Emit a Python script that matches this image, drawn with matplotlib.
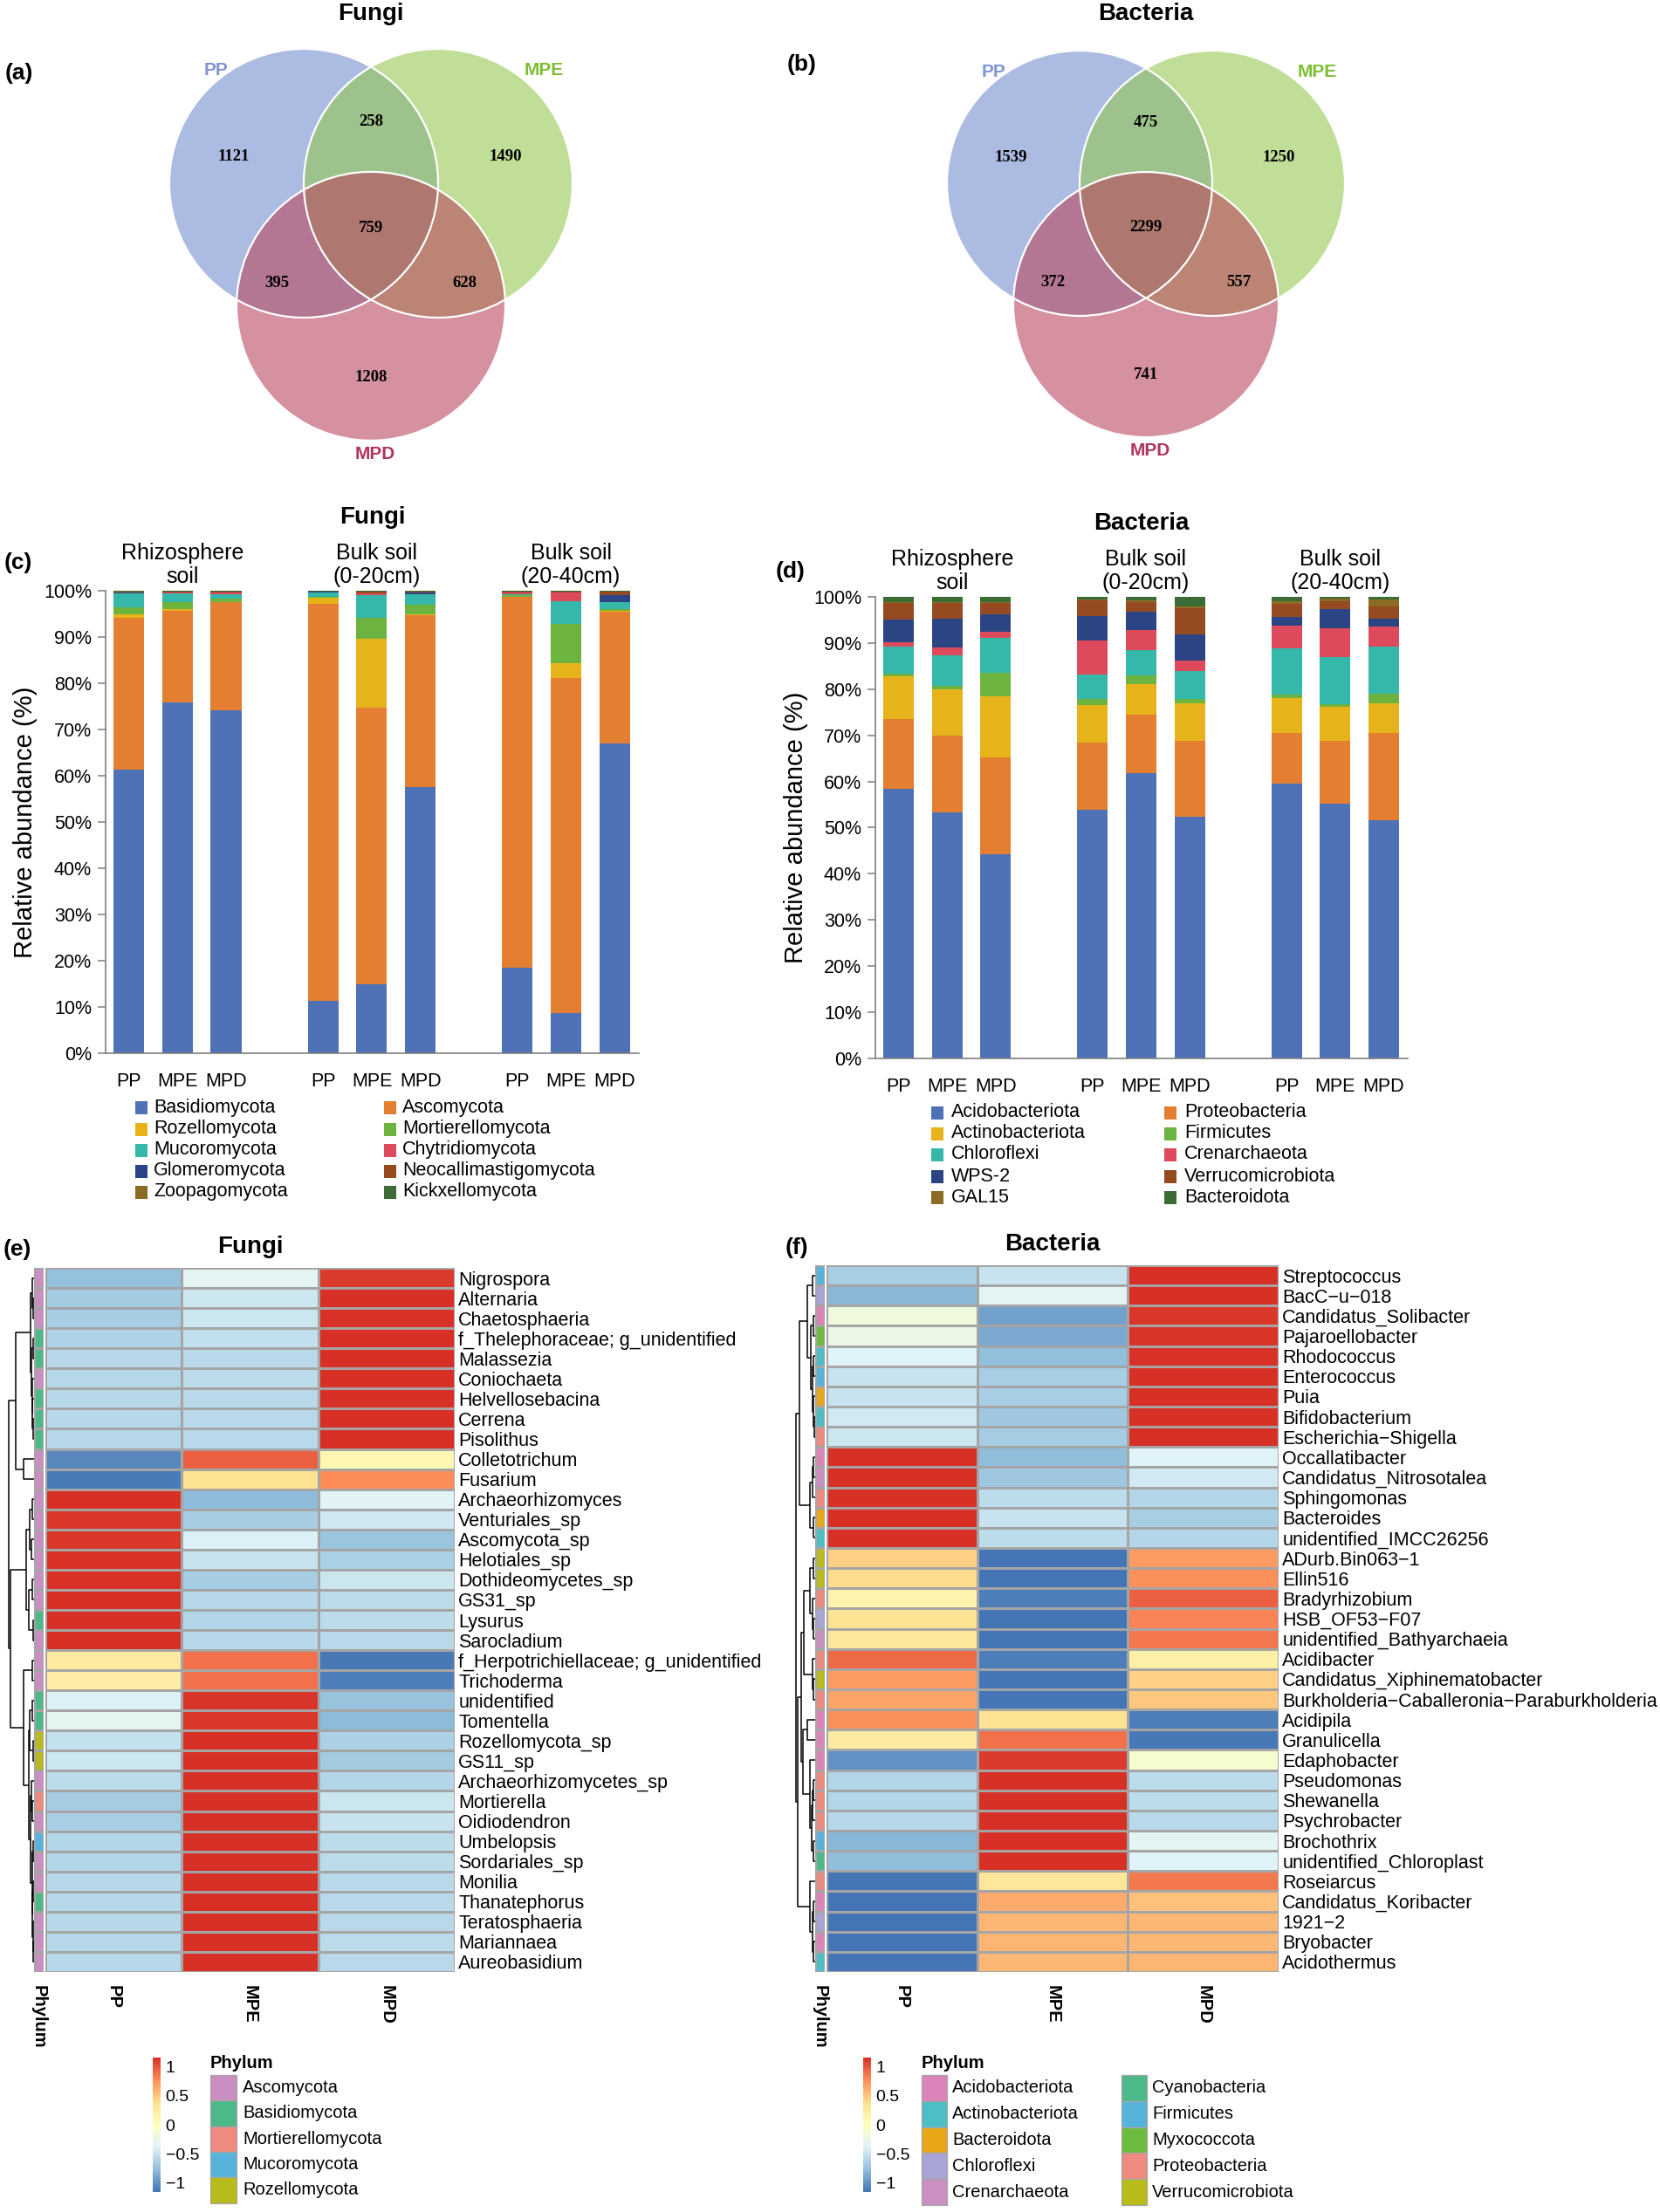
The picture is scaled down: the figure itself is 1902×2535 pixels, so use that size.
import numpy as np
import matplotlib
matplotlib.use("Agg")
import matplotlib.pyplot as plt
from matplotlib.patches import Circle, Rectangle
from matplotlib.colors import LinearSegmentedColormap, ListedColormap, Normalize
from matplotlib.cm import ScalarMappable

plt.rcParams['font.family'] = ['Liberation Sans', 'DejaVu Sans']

# ======================= DATA =======================
venn_sets = ['PP', 'MPE', 'MPD']
# order: PP only, MPE only, MPD only, PP&MPE, PP&MPD, MPE&MPD, all three
fungi_venn = [1121, 1490, 1208, 258, 395, 628, 759]
bacteria_venn = [1539, 1250, 741, 475, 372, 557, 2299]

site_groups = ['Rhizosphere\nsoil', 'Bulk soil\n(0-20cm)', 'Bulk soil\n(20-40cm)']
treatments = ['PP', 'MPE', 'MPD']

fungi_phyla = ['Basidiomycota', 'Ascomycota', 'Rozellomycota', 'Mortierellomycota',
               'Mucoromycota', 'Chytridiomycota', 'Glomeromycota',
               'Neocallimastigomycota', 'Zoopagomycota', 'Kickxellomycota']
f_basidiomycota = [61.3, 75.8, 74.1, 11.4, 15.0, 57.6, 18.4, 8.6, 66.9]
f_ascomycota = [32.8, 19.9, 23.4, 85.8, 59.8, 37.1, 80.3, 72.5, 28.5]
f_rozellomycota = [0.9, 0.3, 0.1, 1.2, 14.8, 0.3, 0.0, 3.2, 0.3]
f_mortierellomycota = [1.5, 1.5, 0.7, 0.3, 4.6, 1.9, 0.3, 8.5, 0.3]
f_mucoromycota = [2.9, 2.0, 0.9, 0.9, 4.9, 2.3, 0.3, 5.0, 1.5]
f_chytridiomycota = [0.1, 0.1, 0.4, 0.1, 0.3, 0.1, 0.3, 1.9, 0.1]
f_glomeromycota = [0.1, 0.1, 0.1, 0.1, 0.1, 0.4, 0.1, 0.0, 1.4]
f_neocallimastigomycota = [0.1, 0.1, 0.1, 0.1, 0.3, 0.1, 0.1, 0.1, 0.8]
f_zoopagomycota = [0.1, 0.0, 0.0, 0.0, 0.1, 0.0, 0.0, 0.0, 0.1]
f_kickxellomycota = [0.2, 0.2, 0.2, 0.1, 0.1, 0.2, 0.2, 0.2, 0.1]

bacteria_phyla = ['Acidobacteriota', 'Proteobacteria', 'Actinobacteriota', 'Firmicutes',
                  'Chloroflexi', 'Crenarchaeota', 'WPS-2', 'Verrucomicrobiota',
                  'GAL15', 'Bacteroidota']
b_acidobacteriota = [58.4, 53.4, 44.2, 53.8, 61.8, 52.3, 59.5, 55.2, 51.6]
b_proteobacteria = [15.1, 16.5, 21.1, 14.6, 12.6, 16.5, 11.0, 13.6, 18.9]
b_actinobacteriota = [9.3, 10.0, 13.2, 8.2, 6.7, 8.1, 7.6, 7.4, 6.4]
b_firmicutes = [0.6, 0.8, 5.0, 1.2, 1.8, 1.0, 0.8, 0.6, 2.2]
b_chloroflexi = [5.8, 6.6, 7.7, 5.3, 5.6, 6.1, 10.0, 10.1, 10.1]
b_crenarchaeota = [0.9, 1.8, 1.3, 7.5, 4.4, 2.2, 4.9, 6.3, 4.3]
b_wps2 = [4.9, 6.2, 3.7, 5.3, 3.9, 5.6, 1.9, 4.1, 1.8]
b_verrucomicrobiota = [3.6, 3.3, 2.5, 3.3, 2.1, 5.7, 2.7, 1.8, 2.6]
b_gal15 = [0.2, 0.3, 0.2, 0.3, 0.4, 0.4, 0.7, 0.5, 1.5]
b_bacteroidota = [1.2, 1.1, 1.1, 0.5, 0.7, 2.1, 0.9, 0.4, 0.6]

fungi_genera = ['Nigrospora', 'Alternaria', 'Chaetosphaeria', 'f_Thelephoraceae; g_unidentified',
                'Malassezia', 'Coniochaeta', 'Helvellosebacina', 'Cerrena', 'Pisolithus',
                'Colletotrichum', 'Fusarium', 'Archaeorhizomyces', 'Venturiales_sp',
                'Ascomycota_sp', 'Helotiales_sp', 'Dothideomycetes_sp', 'GS31_sp', 'Lysurus',
                'Sarocladium', 'f_Herpotrichiellaceae; g_unidentified', 'Trichoderma',
                'unidentified', 'Tomentella', 'Rozellomycota_sp', 'GS11_sp',
                'Archaeorhizomycetes_sp', 'Mortierella', 'Oidiodendron', 'Umbelopsis',
                'Sordariales_sp', 'Monilia', 'Thanatephorus', 'Teratosphaeria',
                'Mariannaea', 'Aureobasidium']
fungi_z_pp = [-0.75, -0.68, -0.66, -0.62, -0.58, -0.59, -0.58, -0.58, -0.58,
              -1.05, -1.12, 1.15, 1.12, 1.12, 1.14, 1.14, 1.15, 1.15, 1.15,
              0.25, 0.22, -0.40, -0.33, -0.52, -0.47, -0.55, -0.67, -0.65, -0.60,
              -0.60, -0.58, -0.58, -0.58, -0.59, -0.58]
fungi_z_mpe = [-0.35, -0.47, -0.48, -0.53, -0.57, -0.56, -0.57, -0.57, -0.57,
               0.95, 0.35, -0.78, -0.66, -0.40, -0.50, -0.66, -0.59, -0.60, -0.58,
               0.88, 0.88, 1.13, 1.12, 1.15, 1.15, 1.15, 1.15, 1.15, 1.15,
               1.15, 1.15, 1.15, 1.15, 1.15, 1.15]
fungi_z_mpd = [1.10, 1.15, 1.14, 1.15, 1.15, 1.15, 1.15, 1.15, 1.15,
               0.10, 0.77, -0.37, -0.46, -0.72, -0.64, -0.48, -0.56, -0.55, -0.57,
               -1.13, -1.10, -0.73, -0.79, -0.63, -0.68, -0.60, -0.48, -0.50, -0.55,
               -0.55, -0.57, -0.57, -0.57, -0.56, -0.57]
fungi_row_phylum = ['Ascomycota', 'Ascomycota', 'Ascomycota', 'Basidiomycota', 'Basidiomycota',
                    'Ascomycota', 'Basidiomycota', 'Basidiomycota', 'Basidiomycota',
                    'Ascomycota', 'Ascomycota', 'Ascomycota', 'Ascomycota', 'Ascomycota',
                    'Ascomycota', 'Ascomycota', 'Ascomycota', 'Basidiomycota', 'Ascomycota',
                    'Ascomycota', 'Ascomycota', 'Basidiomycota', 'Basidiomycota',
                    'Rozellomycota', 'Rozellomycota', 'Ascomycota', 'Mortierellomycota',
                    'Ascomycota', 'Mucoromycota', 'Ascomycota', 'Ascomycota', 'Basidiomycota',
                    'Ascomycota', 'Ascomycota', 'Ascomycota']
fungi_legend_phyla = ['Ascomycota', 'Basidiomycota', 'Mortierellomycota', 'Mucoromycota', 'Rozellomycota']

bacteria_genera = ['Streptococcus', 'BacC\u2212u\u2212018', 'Candidatus_Solibacter', 'Pajaroellobacter',
                   'Rhodococcus', 'Enterococcus', 'Puia', 'Bifidobacterium',
                   'Escherichia\u2212Shigella', 'Occallatibacter', 'Candidatus_Nitrosotalea',
                   'Sphingomonas', 'Bacteroides', 'unidentified_IMCC26256', 'ADurb.Bin063\u22121',
                   'Ellin516', 'Bradyrhizobium', 'HSB_OF53\u2212F07', 'unidentified_Bathyarchaeia',
                   'Acidibacter', 'Candidatus_Xiphinematobacter',
                   'Burkholderia\u2212Caballeronia\u2212Paraburkholderia', 'Acidipila', 'Granulicella',
                   'Edaphobacter', 'Pseudomonas', 'Shewanella', 'Psychrobacter', 'Brochothrix',
                   'unidentified_Chloroplast', 'Roseiarcus', 'Candidatus_Koribacter', '1921\u22122',
                   'Bryobacter', 'Acidothermus']
bacteria_z_pp = [-0.65, -0.80, -0.20, -0.25, -0.38, -0.50, -0.50, -0.45, -0.48,
                 1.15, 1.15, 1.15, 1.15, 1.15, 0.45, 0.40, 0.15, 0.35, 0.30,
                 0.90, 0.70, 0.65, 0.75, 0.25, -1.00, -0.60, -0.60, -0.58, -0.80,
                 -0.77, -1.15, -1.15, -1.15, -1.15, -1.15]
bacteria_z_mpe = [-0.50, -0.35, -0.92, -0.88, -0.76, -0.65, -0.65, -0.70, -0.67,
                  -0.77, -0.70, -0.55, -0.50, -0.55, -1.15, -1.15, -1.10, -1.15, -1.15,
                  -1.10, -1.15, -1.15, 0.35, 0.88, 1.10, 1.15, 1.15, 1.15, 1.15,
                  1.15, 0.30, 0.62, 0.58, 0.58, 0.57]
bacteria_z_mpd = [1.15, 1.15, 1.12, 1.13, 1.14, 1.15, 1.15, 1.15, 1.15,
                  -0.38, -0.45, -0.60, -0.65, -0.60, 0.70, 0.75, 0.95, 0.80, 0.85,
                  0.20, 0.45, 0.50, -1.10, -1.13, -0.10, -0.55, -0.55, -0.57, -0.35,
                  -0.38, 0.85, 0.53, 0.57, 0.57, 0.58]
bacteria_row_phylum = ['Firmicutes', 'Chloroflexi', 'Acidobacteriota', 'Myxococcota',
                       'Actinobacteriota', 'Firmicutes', 'Bacteroidota', 'Actinobacteriota',
                       'Proteobacteria', 'Acidobacteriota', 'Crenarchaeota', 'Proteobacteria',
                       'Bacteroidota', 'Actinobacteriota', 'Verrucomicrobiota',
                       'Verrucomicrobiota', 'Proteobacteria', 'Chloroflexi', 'Crenarchaeota',
                       'Proteobacteria', 'Verrucomicrobiota', 'Proteobacteria',
                       'Acidobacteriota', 'Acidobacteriota', 'Acidobacteriota', 'Proteobacteria',
                       'Proteobacteria', 'Proteobacteria', 'Firmicutes', 'Cyanobacteria',
                       'Proteobacteria', 'Acidobacteriota', 'Chloroflexi', 'Acidobacteriota',
                       'Actinobacteriota']
bacteria_legend_phyla = ['Acidobacteriota', 'Actinobacteriota', 'Bacteroidota', 'Chloroflexi',
                         'Crenarchaeota', 'Cyanobacteria', 'Firmicutes', 'Myxococcota',
                         'Proteobacteria', 'Verrucomicrobiota']

# dendrograms: (merge height, left, right); ints are row indices
fungi_tree = (29,
              (21, (4, (2.5, 0, (1.2, 1, 2)), (3, (1.5, 3, 4), (2.5, 5, (1.8, 6, (1, 7, 8))))),
               (12, 9, 10)),
              (27, (9, (5, (2, 11, 12), (3, 13, 14)), (6, (2.5, 15, 16), (1.5, 17, 18))),
               (12, (2, 19, 20),
                (6, (5, (2, 21, 22), (1.5, 23, 24)),
                 (4, (3, 25, (2, 26, 27)),
                  (2.5, (1.5, 28, 29), (2, (1, 30, 31), (1.5, 32, (0.8, 33, 34)))))))))
bacteria_tree = (22,
                 (18, (9, (3, 0, 1), (5, (2.5, 2, 3), (3.5, (2, 4, 5), (2.5, 6, (1.5, 7, 8))))),
                  (6, (3, (2, 9, 10), 11), (2.5, 12, 13))),
                 (20, (16, (13, (6, (2, 14, 15), (3, 16, (2, 17, 18))), (3, 19, (2, 20, 21))),
                       (14.5, (9, 22, 23), (6, 24, (4, (3, (2, 25, 26), 27), (2.5, 28, 29))))),
                  (6, 30, (3, (2, 31, 32), (2, 33, 34)))))

# ======================= STYLE =======================
W, H = 1902, 2535
bar_colors = ['#4F72B6', '#E47F32', '#E6B41A', '#6DB33F', '#35B7A9',
              '#DC4A5B', '#2B4584', '#964A22', '#8C6C24', '#3B6C35']
fungi_phy_colors = {'Ascomycota': '#CA8EC2', 'Basidiomycota': '#4DB888',
                    'Mortierellomycota': '#EE8A80', 'Mucoromycota': '#56B4DC',
                    'Rozellomycota': '#B8BC1A'}
bact_phy_colors = {'Acidobacteriota': '#DC84B9', 'Actinobacteriota': '#4CBEC6',
                   'Bacteroidota': '#E9A617', 'Chloroflexi': '#A9A4D6',
                   'Crenarchaeota': '#C990C0', 'Cyanobacteria': '#4DB888',
                   'Firmicutes': '#56B4DC', 'Myxococcota': '#6DBB3F',
                   'Proteobacteria': '#EE8A80', 'Verrucomicrobiota': '#B8BC1A'}
heat_cmap = LinearSegmentedColormap.from_list(
    'rdylbu_r', ['#4575B4', '#91BFDB', '#E0F3F8', '#FFFFBF', '#FEE090', '#FC8D59', '#D73027'])
heat_norm = Normalize(vmin=-1.15, vmax=1.15)
GRID = '#A5A5A5'
SPINE = '#7F7F7F'

fig = plt.figure(figsize=(W / 100, H / 100), dpi=100)


def px_axes(l, t, r, b):
    return fig.add_axes([l / W, 1 - b / H, (r - l) / W, (b - t) / H])


ov = px_axes(0, 0, W, H)
ov.set_xlim(0, W)
ov.set_ylim(H, 0)
ov.axis('off')

# ======================= VENN =======================
venn_fill = ['#768FD0', '#96C852', '#B9485F']
venn_lab = ['#7F95D5', '#7DBE32', '#B2345A']
region_off = [(-1.02, -0.50), (1.00, -0.50), (0.0, 1.14), (0.0, -0.76),
              (-0.70, 0.44), (0.70, 0.44), (0.0, 0.03)]
label_off = [(-0.65, -0.84), (0.79, -0.84), (0.03, 1.10)]


def venn(cx, cy, r, counts, title, letter, letter_xy):
    centers = [(cx - r / 2, cy), (cx + r / 2, cy), (cx, cy + 0.915 * r)]
    for (x, y), c in zip(centers, venn_fill):
        ov.add_patch(Circle((x, y), r, facecolor=c, alpha=0.6, edgecolor='none'))
    for (x, y) in centers:
        ov.add_patch(Circle((x, y), r, facecolor='none', edgecolor='white', lw=1.6))
    gx = sum(c[0] for c in centers) / 3
    gy = sum(c[1] for c in centers) / 3
    for (dx, dy), n in zip(region_off, counts):
        ov.text(gx + dx * r, gy + dy * r, str(n), ha='center', va='center',
                family=['Liberation Serif', 'DejaVu Serif'], fontweight='bold', fontsize=13.5)
    for (x, y), (dx, dy), name, col in zip(centers, label_off, venn_sets, venn_lab):
        ov.text(x + dx * r, y + dy * r, name, ha='center', va='center', color=col,
                fontweight='bold', fontsize=15)
    ov.text(gx, 16, title, ha='center', va='center', fontweight='bold', fontsize=20)
    ov.text(letter_xy[0], letter_xy[1], letter, ha='left', va='center', fontweight='bold', fontsize=19)


venn(425, 210, 154, fungi_venn, 'Fungi', '(a)', (6, 84))
venn(1313, 210, 152, bacteria_venn, 'Bacteria', '(b)', (902, 74))

# ======================= BARS =======================


def bar_panel(box, phyla, series, title, letter, letter_xy, legend_cols, legend_rows_y, legend_text_dx):
    l, t, r, b = box
    ax = px_axes(l, t, r, b)
    xs = np.array([g * 4 + k for g in range(len(site_groups)) for k in range(len(treatments))])
    bottom = np.zeros(len(xs))
    for name, vals, col in zip(phyla, series, bar_colors):
        vals = np.asarray(vals, float)
        ax.bar(xs, vals, width=0.63, bottom=bottom, color=col, linewidth=0, clip_on=False)
        bottom += vals
    ax.set_xlim(-0.48, 10.5)
    ax.set_ylim(0, 100)
    ax.set_xticks(xs)
    ax.set_xticklabels(treatments * len(site_groups), fontsize=15.5)
    ticks = np.arange(0, 101, 10)
    ax.set_yticks(ticks)
    ax.set_yticklabels([f'{v}%' for v in ticks], fontsize=15.5)
    ax.tick_params(axis='x', length=0, pad=16)
    ax.tick_params(axis='y', length=6.5, width=1.1, color=SPINE, pad=5)
    for s in ['top', 'right']:
        ax.spines[s].set_visible(False)
    for s in ['left', 'bottom']:
        ax.spines[s].set_color(SPINE)
        ax.spines[s].set_linewidth(1.2)
    ax.set_ylabel('Relative abundance (%)', fontsize=21)
    ax.yaxis.set_label_coords(-0.127, 0.5)
    for g, lab in enumerate(site_groups):
        ax.text(g * 4 + 1.1, 1.008, lab, transform=ax.get_xaxis_transform(), ha='center',
                va='bottom', fontsize=18, linespacing=1.15)
    ax.text(0.5, 1 + 84 / (b - t), title, transform=ax.transAxes, ha='center', va='center',
            fontweight='bold', fontsize=20)
    ov.text(letter_xy[0], letter_xy[1], letter, ha='left', va='center', fontweight='bold', fontsize=19)
    # legend (row-major, 2 columns)
    for i, (name, col) in enumerate(zip(phyla, bar_colors)):
        cx = legend_cols[i % 2]
        cy = legend_rows_y[i // 2]
        ov.add_patch(Rectangle((cx, cy - 7.5), 14, 15, facecolor=col, edgecolor='none'))
        ov.text(cx + legend_text_dx, cy, name, ha='left', va='center', fontsize=15.5)
    return ax


fungi_series = [f_basidiomycota, f_ascomycota, f_rozellomycota, f_mortierellomycota,
                f_mucoromycota, f_chytridiomycota, f_glomeromycota,
                f_neocallimastigomycota, f_zoopagomycota, f_kickxellomycota]
bact_series = [b_acidobacteriota, b_proteobacteria, b_actinobacteriota, b_firmicutes,
               b_chloroflexi, b_crenarchaeota, b_wps2, b_verrucomicrobiota, b_gal15, b_bacteroidota]

bar_panel((121, 677, 732, 1207), fungi_phyla, fungi_series, 'Fungi', '(c)', (5, 645),
          (155, 440), (1269, 1294, 1318, 1342, 1366), 21)
bar_panel((1003, 684, 1613, 1213), bacteria_phyla, bact_series, 'Bacteria', '(d)', (889, 655),
          (1067, 1334), (1275, 1299, 1323, 1348, 1372), 23)

# ======================= HEATMAPS =======================


def draw_tree(ax, node):
    if isinstance(node, int):
        return node + 0.5, 0.0
    h, a, b = node
    ya, ha = draw_tree(ax, a)
    yb, hb = draw_tree(ax, b)
    ax.plot([ha, h, h, hb], [ya, ya, yb, yb], color='black', lw=1.1,
            solid_capstyle='butt', clip_on=False)
    return (ya + yb) / 2, h


def heat_panel(heat_box, phy_x, den_x, genera, cols, row_phylum, phy_colors, tree,
               title, letter, letter_xy):
    l, t, r, b = heat_box
    n = len(genera)
    mat = np.array(cols).T
    ax = px_axes(l, t, r, b)
    ax.pcolormesh(np.arange(4), np.arange(n + 1), mat, cmap=heat_cmap, norm=heat_norm,
                  edgecolors=GRID, linewidth=0.9)
    ax.set_xlim(0, 3)
    ax.set_ylim(n, 0)
    ax.yaxis.tick_right()
    ax.set_yticks(np.arange(n) + 0.5)
    ax.set_yticklabels(genera, fontsize=15.5)
    ax.tick_params(axis='y', length=0, pad=3)
    ax.set_xticks(np.arange(3) + 0.5)
    ax.set_xticklabels(treatments, rotation=270, fontweight='bold', fontsize=14.5)
    ax.tick_params(axis='x', length=0, pad=11)
    for s in ax.spines.values():
        s.set_visible(False)
    ax.set_title(title, fontweight='bold', fontsize=20, pad=12)
    # phylum annotation column
    names = list(phy_colors.keys())
    pax = px_axes(phy_x[0], t, phy_x[1], b)
    idx = np.array([[names.index(p)] for p in row_phylum])
    pax.pcolormesh(np.arange(2), np.arange(n + 1), idx,
                   cmap=ListedColormap([phy_colors[k] for k in names]),
                   vmin=-0.5, vmax=len(names) - 0.5, edgecolors=GRID, linewidth=0.9)
    pax.set_xlim(0, 1)
    pax.set_ylim(n, 0)
    pax.set_yticks([])
    pax.set_xticks([0.5])
    pax.set_xticklabels(['Phylum'], rotation=270, fontweight='bold', fontsize=14.5)
    pax.tick_params(axis='x', length=0, pad=11)
    for s in pax.spines.values():
        s.set_visible(False)
    # dendrogram
    dax = px_axes(den_x[0], t, den_x[1], b)
    dax.set_ylim(n, 0)
    dax.set_xlim(tree[0], 0)
    dax.axis('off')
    draw_tree(dax, tree)
    ov.text(letter_xy[0], letter_xy[1], letter, ha='left', va='center', fontweight='bold', fontsize=19)


heat_panel((52, 1453, 521, 2260), (39, 50), (10, 39), fungi_genera,
           [fungi_z_pp, fungi_z_mpe, fungi_z_mpd], fungi_row_phylum, fungi_phy_colors,
           fungi_tree, 'Fungi', '(e)', (4, 1432))
heat_panel((947, 1450, 1465, 2260), (934, 945), (912, 934), bacteria_genera,
           [bacteria_z_pp, bacteria_z_mpe, bacteria_z_mpd], bacteria_row_phylum, bact_phy_colors,
           bacteria_tree, 'Bacteria', '(f)', (900, 1430))

# ======================= HEATMAP LEGENDS =======================


def heat_legend(cbar_x, top, bottom, title_x, col_x, names, colors, text_dx, sq_w, row_h):
    cax = px_axes(cbar_x, top, cbar_x + 9, bottom)
    cb = fig.colorbar(ScalarMappable(norm=heat_norm, cmap=heat_cmap), cax=cax)
    cb.outline.set_visible(False)
    cb.set_ticks([-1, -0.5, 0, 0.5, 1])
    cb.set_ticklabels(['\u22121', '\u22120.5', '0', '0.5', '1'])
    cb.ax.tick_params(length=0, labelsize=14, pad=4)
    ov.text(title_x, 2364, 'Phylum', ha='left', va='center', fontweight='bold', fontsize=14.5)
    per_col = 5
    for i, name in enumerate(names):
        x0 = col_x[i // per_col]
        y0 = 2378 + (i % per_col) * row_h
        ov.add_patch(Rectangle((x0, y0), sq_w, row_h, facecolor=colors[name],
                               edgecolor=GRID, lw=0.9))
        ov.text(x0 + sq_w + text_dx, y0 + row_h / 2, name, ha='left', va='center', fontsize=14.5)


heat_legend(175, 2358, 2512, 241, (241,), fungi_legend_phyla, fungi_phy_colors, 7, 30, 29.3)
heat_legend(989, 2358, 2512, 1056, (1056, 1285), bacteria_legend_phyla, bact_phy_colors, 6, 29, 29.8)

fig.savefig('out.png', dpi=100)
